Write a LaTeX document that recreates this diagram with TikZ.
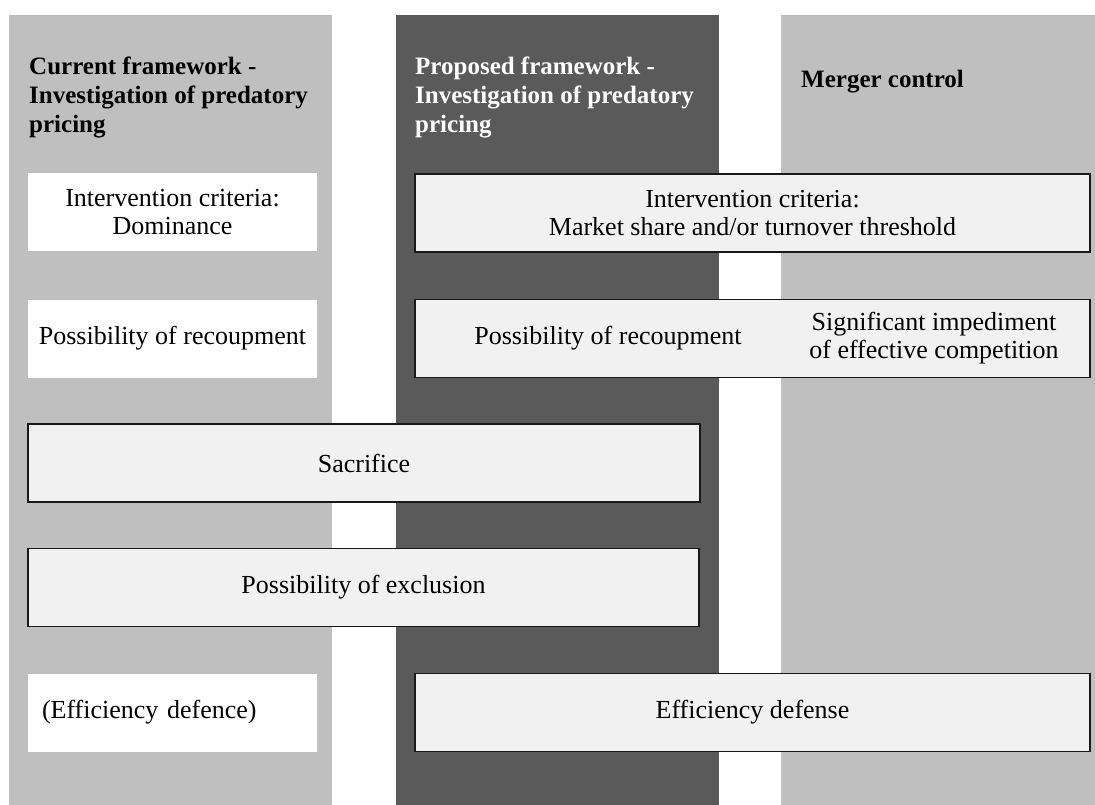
\documentclass[tikz,border=0pt]{standalone}
\usepackage{fontspec}
\setmainfont{Liberation Serif}
\definecolor{colgrey}{HTML}{BFBFBF}
\definecolor{coldark}{HTML}{5A5A5A}
\definecolor{boxgrey}{HTML}{F1F1F1}
\begin{document}
\begin{tikzpicture}[x=1pt, y=-1pt,
    bodytext/.style={font=\fontsize{26}{28}\selectfont, align=center},
    headtext/.style={font=\fontsize{25}{29}\selectfont\bfseries, align=left, anchor=north west, inner sep=0pt},
    whitebox/.style={bodytext, fill=white, minimum width=289pt, minimum height=78pt, inner sep=0pt},
    greybox/.style={bodytext, fill=boxgrey, draw=black!90, line width=1.6pt, minimum height=78pt, inner sep=0pt}]
\useasboundingbox (0,0) rectangle (1095,805);
%columns
\fill[colgrey] (9,15) rectangle (332,805);
\fill[coldark] (396,15) rectangle (719,805);
\fill[colgrey] (781,15) rectangle (1095,805);
%headers
\node[headtext] (curhead) at (29,57) {Current framework -\\Investigation of predatory\\pricing};
\node[headtext, text=white] (prophead) at (415,57) {Proposed framework -\\Investigation of predatory\\pricing};
\node[headtext, anchor=base west] (mergehead) at (801,88) {Merger control};
%row 1: intervention criteria
\node[whitebox] (critdom) at (172.5,212) {Intervention criteria:\\Dominance};
\node[greybox, minimum width=675pt] (critmkt) at (752.5,213) {Intervention criteria:\\Market share and/or turnover threshold};
%row 2: recoupment
\node[whitebox] (recoupcur) at (172.5,338.5) {Possibility of recoupment};
\node[greybox, minimum width=675pt] (recoupbox) at (752.5,338.5) {};
\node[bodytext] (recoupprop) at (608,338.5) {Possibility of recoupment};
\node[bodytext] (siec) at (934,338.5) {Significant impediment\\of effective competition};
%row 3 and 4: spanning both frameworks
\node[greybox, minimum width=672pt] (sacrifice) at (364,463) {Sacrifice};
\node[greybox, minimum width=671pt] (exclusion) at (363.5,587.5) {Possibility of exclusion};
%row 5: efficiency
\node[whitebox, align=left, text width=261pt, inner xsep=14pt] (effcur) at (172.5,712.5) {(Efficiency defence)};
\node[greybox, minimum width=675pt] (effprop) at (752.5,712.5) {Efficiency defense};
\end{tikzpicture}
\end{document}
